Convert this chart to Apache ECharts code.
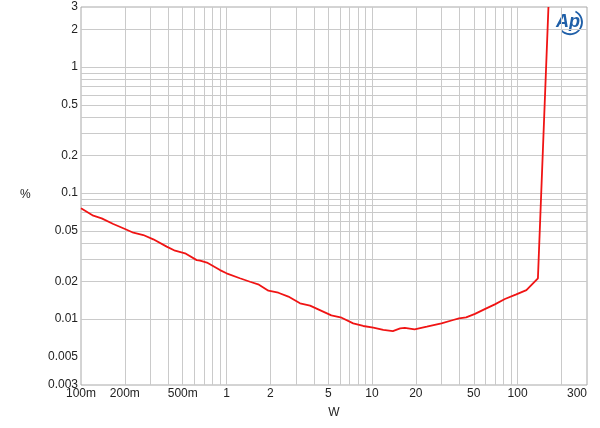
<!DOCTYPE html>
<html>
<head>
<meta charset="utf-8">
<script src="https://cdn.jsdelivr.net/npm/echarts@6/dist/echarts.min.js"></script>
<style>html,body{margin:0;padding:0;background:#fff}#c{width:600px;height:428px}</style>
</head>
<body>
<div id="c"></div>
<script>
// Data (power in W, THD+N in %)
const powerW = [0.1, 0.1215, 0.1387, 0.1667, 0.2006, 0.229, 0.268, 0.314, 0.388, 0.443, 0.519, 0.624, 0.658, 0.733, 0.902, 1.0, 1.235, 1.45, 1.65, 1.94, 2.27, 2.66, 3.2, 3.75, 4.38, 5.25, 6.18, 7.42, 8.7, 10.2, 11.95, 13.9, 15.6, 16.8, 19.6, 23.8, 30, 36.1, 39.6, 44.3, 51, 59.5, 69.8, 81.8, 98, 115, 138, 163];
const thdN   = [0.0758, 0.0662, 0.063, 0.0569, 0.0519, 0.0485, 0.0465, 0.043, 0.0376, 0.0349, 0.0333, 0.0294, 0.0291, 0.0281, 0.0245, 0.0231, 0.0211, 0.0198, 0.0189, 0.0168, 0.0162, 0.0151, 0.01335, 0.0128, 0.0118, 0.0107, 0.01026, 0.00926, 0.00882, 0.00855, 0.0082, 0.00804, 0.00843, 0.00852, 0.0083, 0.0087, 0.00926, 0.00984, 0.01014, 0.01034, 0.011, 0.012, 0.0131, 0.01444, 0.0157, 0.017, 0.0211, 3];

const xTickValues = [0.1, 0.2, 0.5, 1, 2, 5, 10, 20, 50, 100, 300];
const xTickLabels = ['100m', '200m', '500m', '1', '2', '5', '10', '20', '50', '100', '300'];
const yTickValues = [0.003, 0.005, 0.01, 0.02, 0.05, 0.1, 0.2, 0.5, 1, 2, 3];
const yTickLabels = ['0.003', '0.005', '0.01', '0.02', '0.05', '0.1', '0.2', '0.5', '1', '2', '3'];

const xGrid = [0.2,0.3,0.4,0.5,0.6,0.7,0.8,0.9,1,2,3,4,5,6,7,8,9,10,20,30,40,50,60,70,80,90,100,200];
const yGrid = [0.004,0.005,0.006,0.007,0.008,0.009,0.01,0.02,0.03,0.04,0.05,0.06,0.07,0.08,0.09,0.1,0.2,0.3,0.4,0.5,0.6,0.7,0.8,0.9,1,2];

const chart = echarts.init(document.getElementById('c'), null, {renderer: 'canvas'});
const font = 'Liberation Sans, Arial, sans-serif';
function fmt(values, labels) {
  return function (v) {
    for (let i = 0; i < values.length; i++) {
      if (Math.abs(v - values[i]) / values[i] < 1e-6) return labels[i];
    }
    return '';
  };
}
const gridLine = {color: '#cacaca', width: 1, type: 'solid'};
const markData = xGrid.map(v => ({xAxis: v})).concat(yGrid.map(v => ({yAxis: v})));

chart.setOption({
  animation: false,
  backgroundColor: '#fff',
  grid: {left: 81, right: 13, top: 7, bottom: 43, show: true, borderColor: '#a8a8a8', borderWidth: 1, containLabel: false},
  xAxis: {
    type: 'log', logBase: 10, min: 0.1, max: 300,
    name: 'W', nameLocation: 'middle', nameGap: 22,
    nameTextStyle: {fontFamily: font, fontSize: 12, color: '#222'},
    axisLine: {show: false},
    axisTick: {show: false},
    splitLine: {show: false},
    minorSplitLine: {show: false},
    axisLabel: {customValues: xTickValues, formatter: fmt(xTickValues, xTickLabels), fontFamily: font, fontSize: 12, color: '#222', margin: 3, alignMaxLabel: 'right'}
  },
  yAxis: {
    type: 'log', logBase: 10, min: 0.003, max: 3,
    axisLine: {show: false},
    axisTick: {show: false},
    splitLine: {show: false},
    axisLabel: {customValues: yTickValues, formatter: fmt(yTickValues, yTickLabels), fontFamily: font, fontSize: 12, color: '#222', margin: 3}
  },
  graphic: [
    {type: 'text', left: 20, top: 189, style: {text: '%', font: '12px ' + font, fill: '#222'}},
    {type: 'group', left: 556, top: 9, children: [
      {type: 'arc', shape: {cx: 15, cy: 12, r: 12, startAngle: -Math.PI * 0.35, endAngle: Math.PI * 0.75, clockwise: true}, style: {stroke: '#1f5fa8', lineWidth: 1.8, fill: null}},
      {type: 'text', x: 1, y: 3, style: {text: 'Ap', font: 'italic bold 18px ' + font, fill: '#1f5fa8'}}
    ]}
  ],
  series: [{
    type: 'line',
    data: powerW.map((w, i) => [w, thdN[i]]),
    showSymbol: false,
    lineStyle: {color: '#f01414', width: 1.8},
    z: 5,
    markLine: {silent: true, symbol: ['none', 'none'], label: {show: false}, lineStyle: gridLine, animation: false, data: markData, z: 1}
  }]
});
</script>
</body>
</html>
